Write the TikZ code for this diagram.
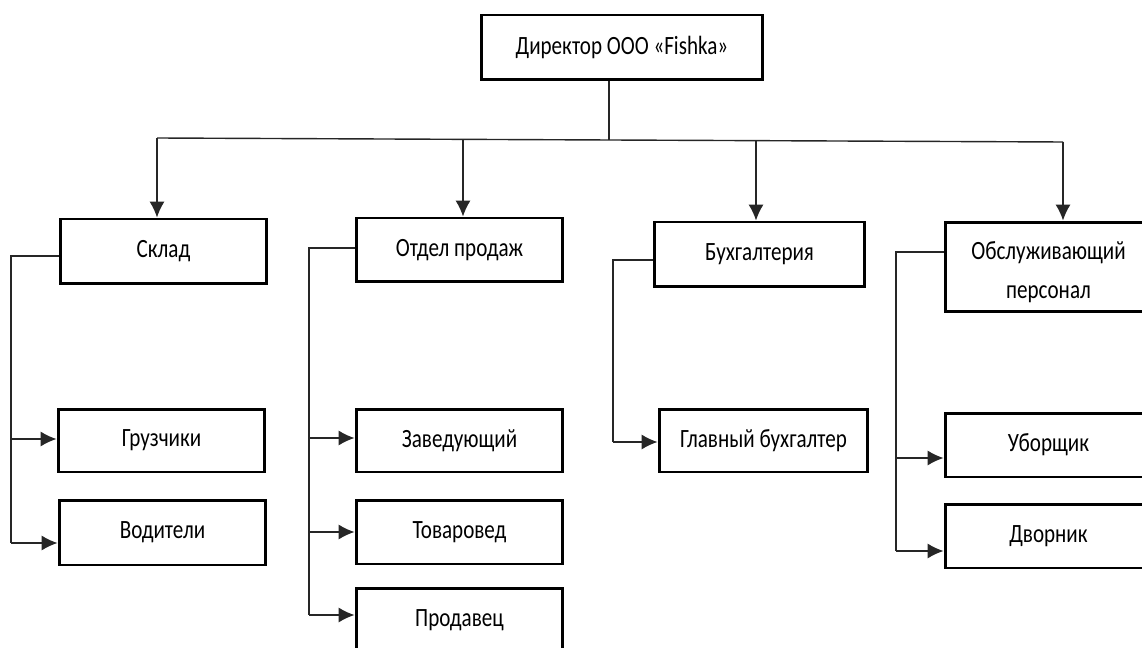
\documentclass[tikz,border=0pt]{standalone}
\usepackage{fontspec}
\setmainfont{Carlito}[FakeStretch=0.8]
\usetikzlibrary{arrows.meta}
\begin{document}
\begin{tikzpicture}[x=0.02cm,y=-0.02cm,
  unit box/.style={draw=black, line width=1.7pt, fill=white, inner sep=0pt,
    font=\fontsize{15}{22.5}\selectfont, align=center},
  conn/.style={draw=black!85, line width=0.8pt},
  arr/.style={conn, -{Latex[length=9pt,width=8.5pt]}}]
\useasboundingbox (0,0) rectangle (1142,648);
\clip (0,0) rectangle (1142,648);

% top level
\node[unit box, minimum width=5.64cm, minimum height=1.3cm] (dir) at (622,47.5) {Директор ООО «Fishka»};

% departments
\node[unit box, minimum width=4.14cm, minimum height=1.3cm] (skl) at (163.5,251.5) {Склад};
\node[unit box, minimum width=4.14cm, minimum height=1.28cm] (otd) at (459.5,250) {Отдел продаж};
\node[unit box, minimum width=4.22cm, minimum height=1.3cm] (buh) at (759.5,254.5) {Бухгалтерия};
\node[unit box, minimum width=4.14cm, minimum height=1.8cm] (obs) at (1048.5,267) {\rule{0pt}{16pt}Обслуживающий\\персонал};

% staff
\node[unit box, minimum width=4.14cm, minimum height=1.26cm] (grz) at (161.5,440.5) {Грузчики};
\node[unit box, minimum width=4.14cm, minimum height=1.3cm] (vod) at (162.5,532.5) {Водители};
\node[unit box, minimum width=4.14cm, minimum height=1.26cm] (zav) at (459.5,440.5) {Заведующий};
\node[unit box, minimum width=4.14cm, minimum height=1.28cm] (tov) at (459.5,532) {Товаровед};
\node[unit box, minimum width=4.14cm, minimum height=1.28cm] (prd) at (459.5,620) {Продавец};
\node[unit box, minimum width=4.18cm, minimum height=1.26cm] (glb) at (763.5,440.5) {Главный бухгалтер};
\node[unit box, minimum width=4.14cm, minimum height=1.28cm] (ubo) at (1048.5,445) {Уборщик};
\node[unit box, minimum width=4.14cm, minimum height=1.28cm] (dvo) at (1048.5,536) {Дворник};

% horizontal bus under the director
\coordinate (b1) at (157,138);
\coordinate (b2) at (463,139.4);
\coordinate (b0) at (609,140);
\coordinate (b3) at (756,140.6);
\coordinate (b4) at (1063,142);
\draw[conn] (b1) -- (b4);
\draw[conn] (b0 |- dir.south) -- (b0);
\draw[arr] (b1) -- (b1 |- skl.north);
\draw[arr] (b2) -- (b2 |- otd.north);
\draw[arr] (b3) -- (b3 |- buh.north);
\draw[arr] (b4) -- (b4 |- obs.north);

% Склад
\coordinate (s1t) at (11,256);
\coordinate (s1a) at (11,439);
\coordinate (s1b) at (11,543);
\draw[conn] (skl.west |- s1t) -- (s1t) -- (s1b);
\draw[arr] (s1a) -- (s1a -| grz.west);
\draw[arr] (s1b) -- (s1b -| vod.west);

% Отдел продаж
\coordinate (s2t) at (309,248);
\coordinate (s2a) at (309,438);
\coordinate (s2b) at (309,532);
\coordinate (s2c) at (309,615);
\draw[conn] (otd.west |- s2t) -- (s2t) -- (s2c);
\draw[arr] (s2a) -- (s2a -| zav.west);
\draw[arr] (s2b) -- (s2b -| tov.west);
\draw[arr] (s2c) -- (s2c -| prd.west);

% Бухгалтерия
\coordinate (s3t) at (613,260);
\coordinate (s3a) at (613,442);
\draw[conn] (buh.west |- s3t) -- (s3t) -- (s3a);
\draw[arr] (s3a) -- (s3a -| glb.west);

% Обслуживающий персонал
\coordinate (s4t) at (896,252);
\coordinate (s4a) at (896,458);
\coordinate (s4b) at (896,551);
\draw[conn] (obs.west |- s4t) -- (s4t) -- (s4b);
\draw[arr] (s4a) -- (s4a -| ubo.west);
\draw[arr] (s4b) -- (s4b -| dvo.west);
\end{tikzpicture}
\end{document}
